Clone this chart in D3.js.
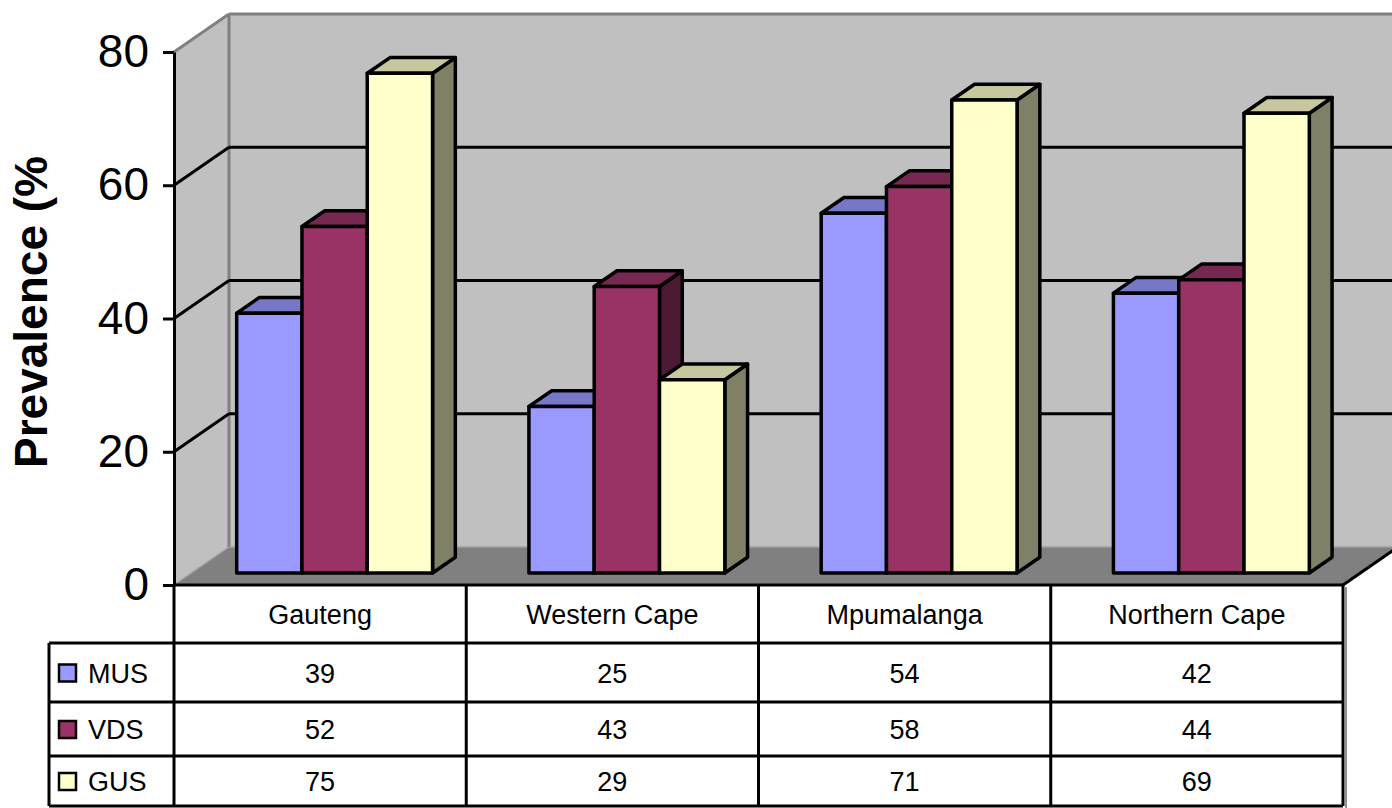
<!DOCTYPE html>
<html>
<head>
<meta charset="utf-8">
<script src="https://cdn.jsdelivr.net/npm/d3@7"></script>
<style>
  html, body { margin: 0; padding: 0; background: #ffffff; }
  svg { display: block; font-family: "Liberation Sans", Arial, sans-serif; }
</style>
</head>
<body>
<svg id="chart" width="1392" height="808"></svg>
<script>
// Prevalence by province, three measures
const categories = ["Gauteng", "Western Cape", "Mpumalanga", "Northern Cape"];
const seriesNames = ["MUS", "VDS", "GUS"];
const musValues = [39, 25, 54, 42];
const vdsValues = [52, 43, 58, 44];
const gusValues = [75, 29, 71, 69];
const yTickValues = [0, 20, 40, 60, 80];
const yTitle = "Prevalence (%";

const seriesValues = { MUS: musValues, VDS: vdsValues, GUS: gusValues };
const seriesColors = { MUS: "#9999ff", VDS: "#993366", GUS: "#ffffcc" };

const svg = d3.select("#chart");

// Plot frame: front plane and oblique depth vector
const frontLeft = 174, frontRight = 1343;
const DX = 55, DY = -38;          // full depth offset of the walls
const zFront = 0.316, zBack = 0.73; // bar slab within the depth

const x0 = d3.scaleBand().domain(categories).range([frontLeft, frontRight]);
const x1 = d3.scaleBand().domain(seriesNames)
  .range([0, x0.bandwidth()]).paddingInner(0).paddingOuter(0.738).align(0.47);
const y = d3.scaleLinear().domain([0, 80]).range([585, 52]);

const proj = (x, v, z) => [x + z * DX, y(v) + z * DY];
const poly = pts => "M" + pts.map(p => p[0] + "," + p[1]).join("L") + "Z";

function shade(c, k) {
  const r = d3.rgb(c);
  return d3.rgb(r.r * k, r.g * k, r.b * k).formatHex();
}

const y0 = y(0), yTop = y(80);
const farRight = 1500;

// Walls and floor
const walls = svg.append("g");
walls.append("path") // back wall
  .attr("d", poly([[frontLeft + DX, yTop + DY], [farRight, yTop + DY], [farRight, y0 + DY], [frontLeft + DX, y0 + DY]]))
  .attr("fill", "#c0c0c0");
walls.append("path") // left wall
  .attr("d", poly([[frontLeft, yTop], [frontLeft + DX, yTop + DY], [frontLeft + DX, y0 + DY], [frontLeft, y0]]))
  .attr("fill", "#c0c0c0");
walls.append("path") // floor
  .attr("d", poly([[frontLeft, y0], [frontLeft + DX, y0 + DY], [frontRight + DX, y0 + DY], [frontRight, y0]]))
  .attr("fill", "#808080");

// Wall edges
walls.append("line").attr("x1", frontLeft).attr("y1", yTop).attr("x2", frontLeft + DX).attr("y2", yTop + DY)
  .attr("stroke", "#808080").attr("stroke-width", 3);
walls.append("line").attr("x1", frontLeft + DX).attr("y1", yTop + DY).attr("x2", farRight).attr("y2", yTop + DY)
  .attr("stroke", "#808080").attr("stroke-width", 3);
walls.append("line").attr("x1", frontLeft + DX).attr("y1", yTop + DY).attr("x2", frontLeft + DX).attr("y2", y0 + DY)
  .attr("stroke", "#808080").attr("stroke-width", 3);
walls.append("line").attr("x1", frontLeft).attr("y1", y0).attr("x2", frontLeft + DX).attr("y2", y0 + DY)
  .attr("stroke", "#a0a0a0").attr("stroke-width", 1.5);
walls.append("line").attr("x1", frontLeft + DX).attr("y1", y0 + DY).attr("x2", farRight).attr("y2", y0 + DY)
  .attr("stroke", "#a0a0a0").attr("stroke-width", 1.5);

// Gridlines on left and back walls
const grid = walls.append("g");
yTickValues.filter(v => v > 0 && v < 80).forEach(v => {
  grid.append("line")
    .attr("x1", frontLeft).attr("y1", y(v)).attr("x2", frontLeft + DX).attr("y2", y(v) + DY)
    .attr("stroke", "#000").attr("stroke-width", 3);
  grid.append("line")
    .attr("x1", frontLeft + DX).attr("y1", y(v) + DY).attr("x2", farRight).attr("y2", y(v) + DY)
    .attr("stroke", "#000").attr("stroke-width", 3);
});

// Floor right edge
walls.append("line").attr("x1", frontRight).attr("y1", y0).attr("x2", frontRight + DX).attr("y2", y0 + DY)
  .attr("stroke", "#000").attr("stroke-width", 3);

// Bars: drawn left to right so each front face overlaps the neighbour's side
const bars = svg.append("g").attr("stroke", "#000").attr("stroke-width", 3.5).attr("stroke-linejoin", "round");
categories.forEach((cat, ci) => {
  seriesNames.forEach(s => {
    const v = seriesValues[s][ci];
    const xl = x0(cat) + x1(s), xr = xl + x1.bandwidth();
    const col = seriesColors[s];
    const g = bars.append("g");
    g.append("path")
      .attr("d", poly([proj(xr, 0, zFront), proj(xr, 0, zBack), proj(xr, v, zBack), proj(xr, v, zFront)]))
      .attr("fill", shade(col, 0.5));
    g.append("path")
      .attr("d", poly([proj(xl, v, zFront), proj(xr, v, zFront), proj(xr, v, zBack), proj(xl, v, zBack)]))
      .attr("fill", shade(col, 0.78));
    g.append("path")
      .attr("d", poly([proj(xl, 0, zFront), proj(xr, 0, zFront), proj(xr, v, zFront), proj(xl, v, zFront)]))
      .attr("fill", col);
  });
});

// Value axis
const axis = svg.append("g")
  .attr("transform", `translate(${frontLeft},0)`)
  .call(d3.axisLeft(y).tickValues(yTickValues).tickSize(11).tickPadding(14).tickSizeOuter(0));
axis.select(".domain").attr("stroke", "#000").attr("stroke-width", 3);
axis.selectAll(".tick line").attr("stroke", "#000").attr("stroke-width", 3);
axis.selectAll(".tick text")
  .attr("font-size", 46).attr("fill", "#000")
  .attr("font-family", "'Liberation Sans', Arial, sans-serif");

// Axis title
svg.append("text")
  .attr("transform", "translate(47,468) rotate(-90)")
  .attr("text-anchor", "start")
  .attr("font-size", 46).attr("font-weight", "bold")
  .text(yTitle);

// Data table
const tableLeft = 49;
const headerTop = y0, headerBottom = 643;
const rowEdges = [643, 702, 756, 806];
const table = svg.append("g");

table.append("rect").attr("x", tableLeft).attr("y", headerBottom)
  .attr("width", frontRight - tableLeft).attr("height", rowEdges[3] - headerBottom).attr("fill", "#fff");
table.append("rect").attr("x", frontLeft).attr("y", headerTop)
  .attr("width", frontRight - frontLeft).attr("height", headerBottom - headerTop).attr("fill", "#fff");

// right shadow
table.append("line").attr("x1", frontRight + 3).attr("y1", headerTop + 2).attr("x2", frontRight + 3).attr("y2", 808)
  .attr("stroke", "#909090").attr("stroke-width", 2);

const lines = table.append("g").attr("stroke", "#000").attr("stroke-width", 3);
rowEdges.forEach(ry => {
  lines.append("line").attr("x1", tableLeft).attr("x2", frontRight).attr("y1", ry).attr("y2", ry);
});
lines.append("line").attr("x1", frontLeft).attr("x2", frontRight).attr("y1", headerTop).attr("y2", headerTop);
lines.append("line").attr("x1", tableLeft).attr("x2", tableLeft).attr("y1", headerBottom).attr("y2", rowEdges[3]);
categories.forEach(cat => {
  const cx = x0(cat);
  lines.append("line").attr("x1", cx).attr("x2", cx).attr("y1", headerTop).attr("y2", rowEdges[3]);
});
lines.append("line").attr("x1", frontRight).attr("x2", frontRight).attr("y1", headerTop).attr("y2", rowEdges[3]);

// Header labels
table.selectAll("text.cat").data(categories).join("text")
  .attr("class", "cat")
  .attr("x", d => x0(d) + x0.bandwidth() / 2)
  .attr("y", (headerTop + headerBottom) / 2 + 10)
  .attr("text-anchor", "middle").attr("font-size", 27)
  .text(d => d);

// Rows: legend key + values
seriesNames.forEach((s, si) => {
  const top = rowEdges[si], bottom = rowEdges[si + 1];
  const mid = (top + bottom) / 2;
  table.append("rect")
    .attr("x", 59).attr("y", mid - 8).attr("width", 17).attr("height", 17)
    .attr("fill", seriesColors[s]).attr("stroke", "#000").attr("stroke-width", 2.5);
  table.append("text")
    .attr("x", 88).attr("y", mid + 10).attr("font-size", 27).text(s);
  table.selectAll(null).data(seriesValues[s]).join("text")
    .attr("x", (d, i) => x0(categories[i]) + x0.bandwidth() / 2)
    .attr("y", mid + 10)
    .attr("text-anchor", "middle").attr("font-size", 27)
    .text(d => d);
});
</script>
</body>
</html>
